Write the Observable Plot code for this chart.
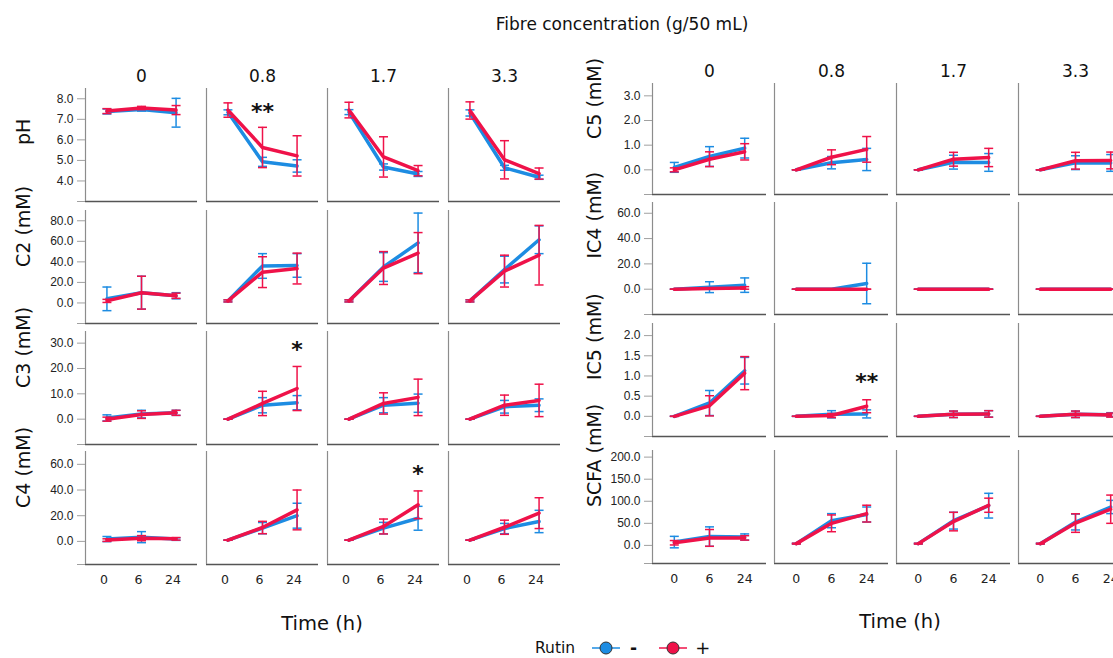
<!DOCTYPE html>
<html><head><meta charset="utf-8">
<script src="https://cdn.jsdelivr.net/npm/d3@7"></script>
<script src="https://cdn.jsdelivr.net/npm/@observablehq/plot@0.6"></script>
<style>
body{margin:0;background:#fff;}
#root{position:relative;width:1113px;height:658px;overflow:hidden;background:#fff;font-family:"DejaVu Sans",Verdana,sans-serif;color:#111;}
.abs{position:absolute;white-space:nowrap;}
</style></head><body><div id="root"></div>
<script>
// ---------- categories ----------
const concs = ["0", "0.8", "1.7", "3.3"];          // fibre concentration (g/50 mL)
const times = ["0", "6", "24"];                    // time (h)
const leftVars = ["pH", "C2", "C3", "C4"];
const rightVars = ["C5", "IC4", "IC5", "SCFA"];
const yLabels = {pH: "pH", C2: "C2 (mM)", C3: "C3 (mM)", C4: "C4 (mM)",
                 C5: "C5 (mM)", IC4: "IC4 (mM)", IC5: "IC5 (mM)", SCFA: "SCFA (mM)"};

// ---------- values: rows = concentration, columns = time ----------
// "neg" = Rutin -, "pos" = Rutin +, "err" = error-bar half width
const pH_neg     = [[7.38, 7.48, 7.32], [7.34, 4.93, 4.73], [7.35, 4.68, 4.34], [7.31, 4.64, 4.18]];
const pH_neg_err = [[0.12, 0.08, 0.70], [0.12, 0.22, 0.30], [0.12, 0.15, 0.12], [0.15, 0.12, 0.10]];
const pH_pos     = [[7.40, 7.55, 7.45], [7.45, 5.63, 5.22], [7.45, 5.17, 4.50], [7.43, 5.03, 4.36]];
const pH_pos_err = [[0.12, 0.08, 0.22], [0.35, 0.98, 0.98], [0.38, 0.98, 0.25], [0.42, 0.93, 0.27]];

const C2_neg     = [[4, 10, 7], [2, 36, 36.5], [2, 35, 58.5], [2, 32.5, 61.5]];
const C2_neg_err = [[11.5, 16, 3], [1, 12, 11.5], [1, 14, 29], [1, 13, 13.5]];
const C2_pos     = [[2, 10, 7], [2, 30, 33.5], [2, 34, 48.5], [2, 31, 46.5]];
const C2_pos_err = [[1.5, 16, 2.5], [1, 15, 15], [1, 16, 20], [1, 15.5, 29]];

const C3_neg     = [[0.5, 2, 2.5], [0, 5.5, 6.5], [0, 5.5, 6.3], [0, 4.9, 5.5]];
const C3_neg_err = [[1.2, 1.5, 1], [0, 3, 2.8], [0, 3, 3.6], [0, 2.5, 2.5]];
const C3_pos     = [[0, 1.8, 2.5], [0, 6.2, 12.1], [0, 6.2, 8.6], [0, 5.5, 7.4]];
const C3_pos_err = [[0.8, 1.5, 1], [0, 4.8, 8.7], [0, 4.2, 7.2], [0, 4, 6.4]];

const C4_neg     = [[1.8, 3.3, 1.8], [1, 10.3, 20], [1, 10.3, 18], [1, 10, 15.5]];
const C4_neg_err = [[2, 4.3, 1], [0, 4.4, 9.7], [0, 4.5, 9.3], [0, 4, 8.7]];
const C4_pos     = [[1, 2.5, 2], [1, 10.8, 24.5], [1, 11.6, 28.5], [1, 11, 22]];
const C4_pos_err = [[1, 2, 1], [0, 4.8, 15.5], [0, 5.8, 10.8], [0, 5.5, 12]];

const C5_neg     = [[0.10, 0.54, 0.88], [0, 0.29, 0.42], [0, 0.31, 0.30], [0, 0.29, 0.28]];
const C5_neg_err = [[0.20, 0.40, 0.40], [0, 0.25, 0.45], [0, 0.28, 0.36], [0, 0.28, 0.34]];
const C5_pos     = [[0, 0.43, 0.73], [0, 0.51, 0.83], [0, 0.43, 0.50], [0, 0.37, 0.38]];
const C5_pos_err = [[0.08, 0.30, 0.33], [0, 0.30, 0.52], [0, 0.28, 0.37], [0, 0.34, 0.34]];

const IC4_neg     = [[0, 1.6, 3.2], [0, 0, 4.5], [0, 0, 0], [0, 0, 0]];
const IC4_neg_err = [[0, 4.3, 5.7], [0, 0, 16], [0, 0, 0], [0, 0, 0]];
const IC4_pos     = [[0, 0.5, 1], [0, 0, 0], [0, 0, 0], [0, 0, 0]];
const IC4_pos_err = [[0, 0, 1], [0, 0, 0], [0, 0, 0], [0, 0, 0]];

const IC5_neg     = [[0, 0.33, 1.13], [0, 0.05, 0.06], [0, 0.05, 0.06], [0, 0.05, 0.04]];
const IC5_neg_err = [[0, 0.31, 0.33], [0, 0.09, 0.10], [0, 0.08, 0.08], [0, 0.08, 0.05]];
const IC5_pos     = [[0, 0.26, 1.07], [0, 0.02, 0.25], [0, 0.05, 0.06], [0, 0.05, 0.03]];
const IC5_pos_err = [[0, 0.25, 0.41], [0, 0.05, 0.16], [0, 0.08, 0.08], [0, 0.08, 0.05]];

const SCFA_neg     = [[7.5, 20, 19], [4, 56, 70], [4, 56, 90], [4, 53, 87]];
const SCFA_neg_err = [[13, 22, 7], [1, 16, 17], [1, 19, 28], [1, 18, 15]];
const SCFA_pos     = [[6, 17, 17], [4, 50, 72], [4, 54, 91], [4, 50.6, 82]];
const SCFA_pos_err = [[5, 19, 5], [1, 19, 19], [1, 21, 16], [1, 21, 32]];

// tick labels per variable
const pH_ticks = [4, 5, 6, 7, 8];
const C2_ticks = [0, 20, 40, 60, 80];
const C3_ticks = [0, 10, 20, 30];
const C4_ticks = [0, 20, 40, 60];
const C5_ticks = [0, 1, 2, 3];
const IC4_ticks = [0, 20, 40, 60];
const IC5_ticks = [0, 0.5, 1, 1.5, 2];
const SCFA_ticks = [0, 50, 100, 150, 200];

// significance marks
const starVar   = ["pH", "C3", "C4", "IC5"];
const starConc  = ["0.8", "0.8", "1.7", "0.8"];
const starTime  = ["6", "24", "24", "24"];
const starValue = [7.37, 27.4, 52.3, 0.84];
const starText  = ["**", "*", "*", "**"];

// ---------- assembled tables ----------
const series = {
  pH: [pH_neg, pH_neg_err, pH_pos, pH_pos_err], C2: [C2_neg, C2_neg_err, C2_pos, C2_pos_err],
  C3: [C3_neg, C3_neg_err, C3_pos, C3_pos_err], C4: [C4_neg, C4_neg_err, C4_pos, C4_pos_err],
  C5: [C5_neg, C5_neg_err, C5_pos, C5_pos_err], IC4: [IC4_neg, IC4_neg_err, IC4_pos, IC4_pos_err],
  IC5: [IC5_neg, IC5_neg_err, IC5_pos, IC5_pos_err], SCFA: [SCFA_neg, SCFA_neg_err, SCFA_pos, SCFA_pos_err]
};
const ticks = {pH: pH_ticks, C2: C2_ticks, C3: C3_ticks, C4: C4_ticks, C5: C5_ticks, IC4: IC4_ticks, IC5: IC5_ticks, SCFA: SCFA_ticks};
const yDomain = {pH: [3, 8.5], C2: [-20, 90], C3: [-10, 34.6], C4: [-18, 70],
                 C5: [-1, 3.5], IC4: [-20, 68.5], IC5: [-0.5, 2.3], SCFA: [-41, 215]};

const BLUE = "#1d8ce2", RED = "#ef1249";
const xDomain = [-0.62, 2.62];

function rowData(v) {
  const [mn, en, mp, ep] = series[v];
  const out = [];
  concs.forEach((c, ci) => times.forEach((t, ti) => {
    out.push({rutin: "-", conc: c, ti, mean: mn[ci][ti], err: en[ci][ti]});
  }));
  concs.forEach((c, ci) => times.forEach((t, ti) => {
    out.push({rutin: "+", conc: c, ti, mean: mp[ci][ti], err: ep[ci][ti]});
  }));
  return out;
}
const stars = starVar.map((v, i) => ({v, conc: starConc[i], ti: times.indexOf(starTime[i]), value: starValue[i], label: starText[i]}));

const capSymbol = {draw(ctx, size) { const w = Math.sqrt(size / Math.PI); ctx.moveTo(-w, 0); ctx.lineTo(w, 0); }};

const root = document.getElementById("root");
const MT = 32, MB = 40;

function rowPlot(v, cfg) {
  const d = rowData(v);
  const dom = yDomain[v];
  const marks = [
    Plot.ruleY([dom[0]], {stroke: "#555", strokeWidth: 1.3}),
    Plot.ruleX([xDomain[0]], {stroke: "#8c8c8c", strokeWidth: 1.2}),
    Plot.axisY({ticks: [dom[0], ...ticks[v]], tickFormat: t => t === dom[0] ? "" : t.toFixed(1),
      tickSize: 8, tickPadding: 4, stroke: "#a0a0a0", fill: "#222", fontSize: 12,
      fontFamily: "Liberation Sans, Arial, sans-serif", label: null})
  ];
  for (const [k, color] of [["-", BLUE], ["+", RED]]) {
    const g = d.filter(r => r.rutin === k);
    marks.push(
      Plot.line(g, {fx: "conc", x: "ti", y: "mean", stroke: color, strokeWidth: 3.5, strokeLinejoin: "round"}),
      Plot.ruleX(g, {fx: "conc", x: "ti", y1: r => r.mean - r.err, y2: r => r.mean + r.err, stroke: color, strokeWidth: 1.5}),
      Plot.dot(g, {fx: "conc", x: "ti", y: r => r.mean - r.err, symbol: capSymbol, r: 4.5, stroke: color, strokeWidth: 1.5, fill: "none"}),
      Plot.dot(g, {fx: "conc", x: "ti", y: r => r.mean + r.err, symbol: capSymbol, r: 4.5, stroke: color, strokeWidth: 1.5, fill: "none"})
    );
  }
  const st = stars.filter(s => s.v === v);
  if (st.length) marks.push(Plot.text(st, {fx: "conc", x: "ti", y: "value", text: "label", fontSize: 22, fontWeight: "bold", fontFamily: "DejaVu Sans", fill: "#111"}));
  marks.push(Plot.text([yLabels[v]], {fx: [concs[0]], frameAnchor: "left", rotate: -90, dx: -cfg.labelOff, fontSize: 19, fontFamily: "DejaVu Sans", fill: "#111"}));
  if (cfg.top) marks.push(Plot.axisFx({anchor: "top", label: null, tickSize: 0, tickPadding: 7, fontSize: 17, fontFamily: "DejaVu Sans", fill: "#111"}));
  if (cfg.bottom) marks.push(Plot.axisX({ticks: [0, 1, 2], tickFormat: i => times[i], tickSize: 0, tickPadding: 11, dx: cfg.xdx, fontSize: 12.5, fontFamily: "DejaVu Sans", fill: "#222", label: null}));
  const svg = Plot.plot({
    width: cfg.marginLeft + cfg.facetW, height: MT + cfg.h + MB,
    marginLeft: cfg.marginLeft, marginRight: 0, marginTop: MT, marginBottom: MB,
    fx: {domain: concs, paddingInner: cfg.pad, paddingOuter: 0, label: null, ...(cfg.top ? {} : {axis: null})},
    x: {domain: xDomain, ...(cfg.bottom ? {} : {axis: null})},
    y: {domain: dom},
    style: {background: "none", overflow: "visible", color: "#333"},
    marks
  });
  svg.style.position = "absolute";
  svg.style.left = cfg.left + "px";
  svg.style.top = (cfg.frameTop - MT) + "px";
  svg.style.maxWidth = "none";
  root.appendChild(svg);
}

const leftTops = [88, 210, 331, 451];
const rightTops = [83, 202, 323, 450];
const rightH = [111, 112, 113, 113];
leftVars.forEach((v, i) => rowPlot(v, {left: 0, marginLeft: 85, facetW: 475, pad: 9 / 121, h: 113,
  frameTop: leftTops[i], top: i === 0, bottom: i === 3, labelOff: 62, xdx: -3}));
rightVars.forEach((v, i) => rowPlot(v, {left: 560, marginLeft: 92, facetW: 480, pad: 8 / 122, h: rightH[i],
  frameTop: rightTops[i], top: i === 0, bottom: i === 3, labelOff: 58, xdx: 0}));

// ---------- titles and legend ----------
function addText(txt, x, y, size, extra = "") {
  const el = document.createElement("div");
  el.className = "abs";
  el.textContent = txt;
  el.style.cssText += `left:${x}px;top:${y}px;font-size:${size}px;transform:translate(-50%,-50%);${extra}`;
  root.appendChild(el);
  return el;
}
addText("Fibre concentration (g/50 mL)", 622, 24, 17);
addText("Time (h)", 322, 623, 19.5);
addText("Time (h)", 900, 621, 19.5);

const legend = document.createElement("div");
legend.className = "abs";
legend.style.cssText += "left:535px;top:638px;height:20px;display:flex;align-items:center;font-size:15.5px;";
function swatch(color) {
  return `<svg width="28" height="16" style="margin:0 6px 0 0;display:block"><line x1="0" x2="28" y1="8" y2="8" stroke="${color}" stroke-width="1.5"/><circle cx="14" cy="8" r="6" fill="${color}" stroke="#333" stroke-width="1"/></svg>`;
}
legend.innerHTML = `<span style="margin-right:17px;line-height:20px">Rutin</span>${swatch(BLUE)}<span style="font-weight:bold;font-size:17px;line-height:20px;margin:0 22px 0 4px">-</span>${swatch(RED)}<span style="font-size:18px;line-height:20px;margin-left:2px">+</span>`;
root.appendChild(legend);
</script></body></html>
